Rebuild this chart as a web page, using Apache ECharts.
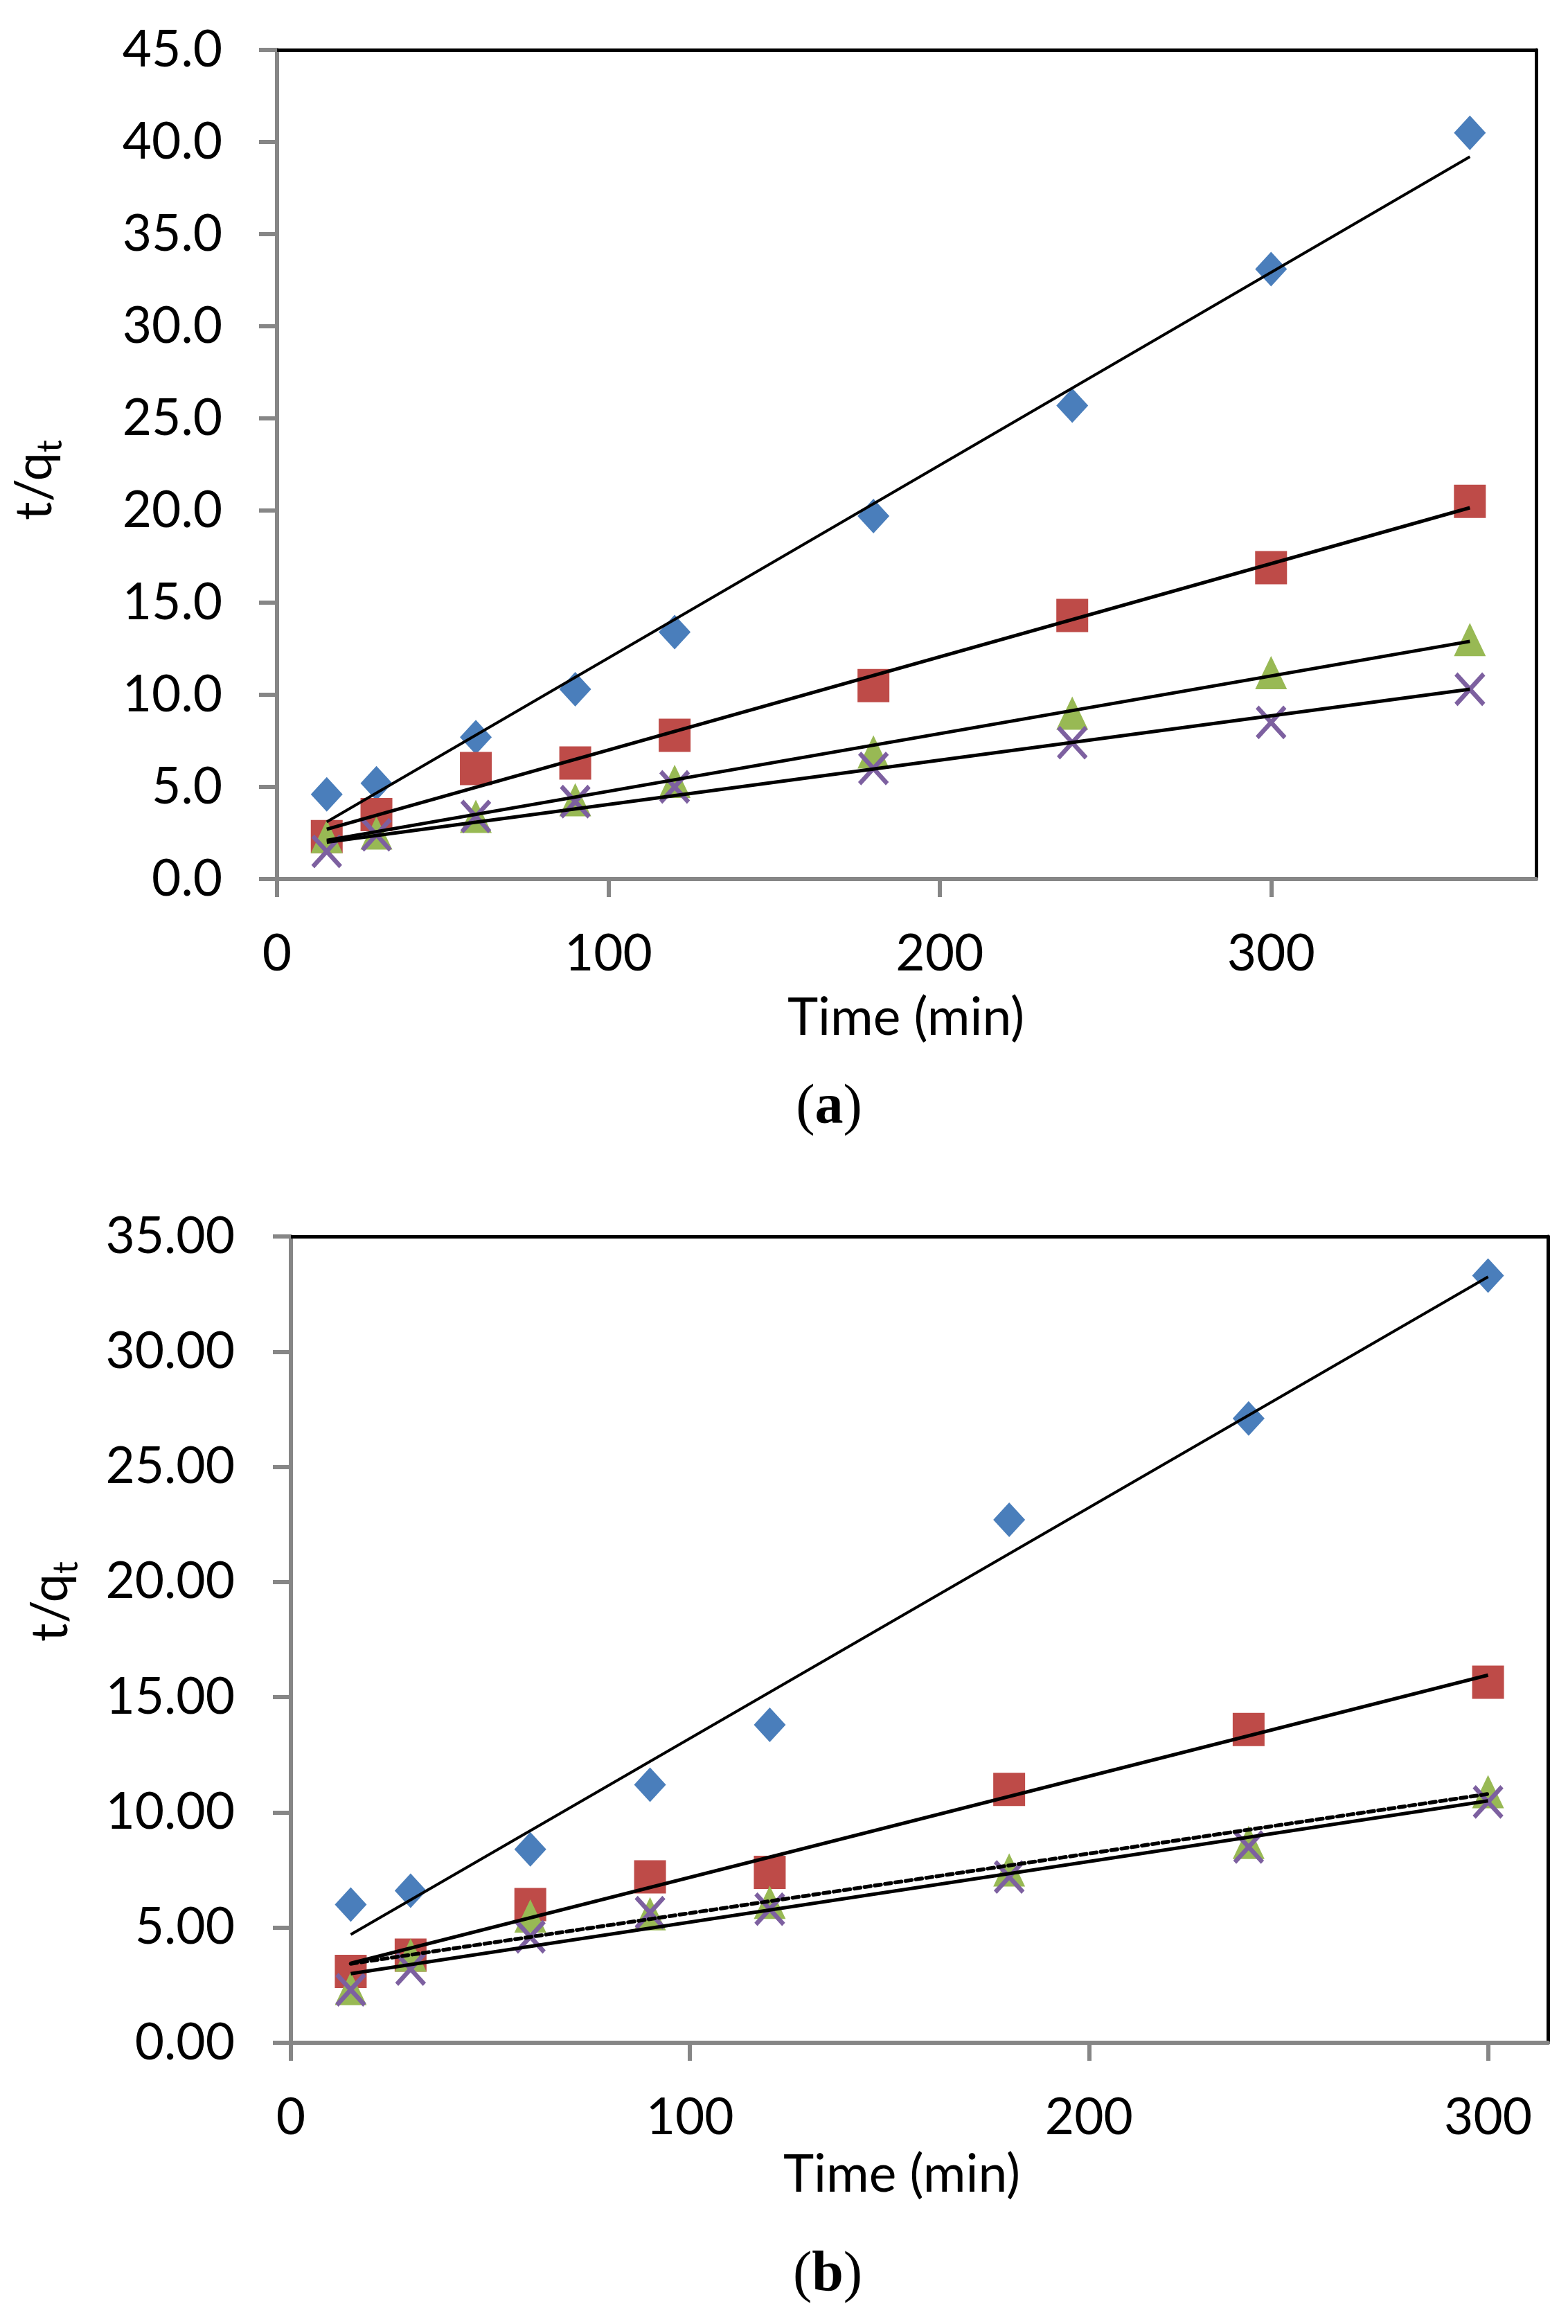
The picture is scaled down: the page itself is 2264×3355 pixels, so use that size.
<!DOCTYPE html>
<html>
<head>
<meta charset="utf-8">
<script src="https://cdn.jsdelivr.net/npm/echarts@6/dist/echarts.min.js"></script>
<style>
html,body{margin:0;padding:0;background:#fff;}
#c{width:2264px;height:3355px;}
</style>
</head>
<body>
<div id="c"></div>
<script>
// ---- Data: panel (a) ----
var timeA = [15, 30, 60, 90, 120, 180, 240, 300, 360];
var blueA = [4.6, 5.2, 7.7, 10.3, 13.4, 19.7, 25.7, 33.1, 40.5];
var redA = [2.3, 3.5, 6.0, 6.3, 7.8, 10.5, 14.3, 16.9, 20.5];
var greenA = [2.3, 2.5, 3.4, 4.3, 5.3, 6.9, 9.0, 11.2, 13.0];
var purpleA = [1.5, 2.4, 3.4, 4.2, 5.0, 6.0, 7.4, 8.5, 10.3];
// trend line end points
var fitTimeA = [15, 360];
var fitBlueA = [3.1, 39.2];
var fitRedA = [2.7, 20.15];
var fitGreenA = [2.1, 12.9];
var fitPurpleA = [2.0, 10.3];

// ---- Data: panel (b) ----
var timeB = [15, 30, 60, 90, 120, 180, 240, 300];
var blueB = [6.0, 6.6, 8.4, 11.2, 13.8, 22.7, 27.1, 33.3];
var redB = [3.1, 3.8, 6.0, 7.2, 7.4, 11.0, 13.6, 15.65];
var greenB = [2.35, 3.8, 5.5, 5.6, 6.1, 7.5, 8.7, 10.9];
var purpleB = [2.3, 3.2, 4.6, 5.65, 5.8, 7.2, 8.5, 10.45];
var fitTimeB = [15, 300];
var fitBlueB = [4.7, 33.25];
var fitRedB = [3.45, 15.96];
var fitGreenB = [3.43, 10.8];
var fitPurpleB = [3.0, 10.5];

// ticks
var xTicksA = [0, 100, 200, 300];
var xTicksB = [0, 100, 200, 300];

var SANS = 'Lato';
var SERIF = 'Liberation Serif';
var GRAY = '#868686';
var COLORS = {blue: '#4A7EBB', red: '#BE4B48', green: '#98B954', purple: '#7D60A0'};

function pairs(xs, ys) { return xs.map(function (x, i) { return [x, ys[i]]; }); }

function scatter(gi, xs, ys, kind) {
  var s = {
    type: 'scatter', xAxisIndex: gi * 2, yAxisIndex: gi * 2, z: 2,
    data: pairs(xs, ys), silent: true, animation: false
  };
  if (kind === 'blue') { s.symbol = 'diamond'; s.symbolSize = [46, 50]; s.itemStyle = {color: COLORS.blue, opacity: 1}; }
  if (kind === 'red') { s.symbol = 'rect'; s.symbolSize = [46, 48]; s.itemStyle = {color: COLORS.red, opacity: 1}; }
  if (kind === 'green') { s.symbol = 'triangle'; s.symbolSize = [46, 48]; s.itemStyle = {color: COLORS.green, opacity: 1}; }
  if (kind === 'purple') {
    s.symbol = 'path://M0,0L10,10M10,0L0,10'; s.symbolSize = [40, 44];
    s.itemStyle = {color: 'rgba(0,0,0,0)', borderColor: COLORS.purple, borderWidth: 6.5, opacity: 1};
  }
  return s;
}
function fit(gi, xs, ys, dashed, w) {
  return {
    type: 'line', xAxisIndex: gi * 2, yAxisIndex: gi * 2, z: 5,
    data: pairs(xs, ys), symbol: 'none', silent: true, animation: false,
    lineStyle: {color: '#000', width: w || 4, type: dashed ? [9, 6] : 'solid', cap: dashed ? 'round' : 'butt'}
  };
}

function mainX(gi, max, ticks) {
  return {
    type: 'value', gridIndex: gi, min: 0, max: max, interval: 100,
    axisLine: {show: true, onZero: false, lineStyle: {color: GRAY, width: 6}},
    axisTick: {show: true, inside: false, length: 26, lineStyle: {color: GRAY, width: 6}, customValues: ticks},
    axisLabel: {show: true, margin: 72, color: '#000', fontFamily: SANS, fontSize: 73, customValues: ticks},
    splitLine: {show: false}
  };
}
function borderX(gi, max) {
  return {
    type: 'value', gridIndex: gi, min: 0, max: max, position: 'top',
    axisLine: {show: true, onZero: false, lineStyle: {color: '#000', width: 5}},
    axisTick: {show: false}, axisLabel: {show: false}, splitLine: {show: false}
  };
}
function mainY(gi, max, interval, dec, margin) {
  return {
    type: 'value', gridIndex: gi, min: 0, max: max, interval: interval,
    axisLine: {show: true, onZero: false, lineStyle: {color: GRAY, width: 6}},
    axisTick: {show: true, inside: false, length: 26, lineStyle: {color: GRAY, width: 6}},
    axisLabel: {show: true, margin: margin, color: '#000', fontFamily: SANS, fontSize: 73,
      formatter: function (v) { return v.toFixed(dec); }},
    splitLine: {show: false}
  };
}
function borderY(gi, max) {
  return {
    type: 'value', gridIndex: gi, min: 0, max: max, position: 'right',
    axisLine: {show: true, onZero: false, lineStyle: {color: '#000', width: 5}},
    axisTick: {show: false}, axisLabel: {show: false}, splitLine: {show: false}
  };
}

function yTitle(cx, cy) {
  return {
    type: 'text', x: cx, y: cy, rotation: Math.PI / 2, silent: true,
    style: {
      text: '{m|t/q}{s|t}', x: 0, y: 0, align: 'center', verticalAlign: 'middle',
      rich: {
        m: {fontFamily: SANS, fontSize: 74, lineHeight: 96, fill: '#000', verticalAlign: 'middle'},
        s: {fontFamily: SANS, fontSize: 50, lineHeight: 44, fill: '#000', verticalAlign: 'bottom'}
      }
    }
  };
}
function xTitle(cx, cy) {
  return {
    type: 'text', x: cx, y: cy, silent: true,
    style: {text: 'Time (min)', x: 0, y: 0, align: 'center', verticalAlign: 'middle',
      fontFamily: SANS, fontSize: 75, fill: '#000'}
  };
}
function panelLabel(cx, cy, letter) {
  return {
    type: 'text', x: cx, y: cy, silent: true,
    style: {
      text: '{p|(}{b|' + letter + '}{p|)}', x: 0, y: 0, align: 'center', verticalAlign: 'middle',
      rich: {
        p: {fontFamily: SERIF, fontSize: 82, fontWeight: 'normal', fill: '#000'},
        b: {fontFamily: SERIF, fontSize: 82, fontWeight: 'bold', fill: '#000'}
      }
    }
  };
}

var chart = echarts.init(document.getElementById('c'), null, {renderer: 'canvas'});
chart.setOption({
  backgroundColor: '#fff',
  animation: false,
  grid: [
    {left: 400, top: 72, width: 1818, height: 1197, containLabel: false},
    {left: 420, top: 1785, width: 1815, height: 1164, containLabel: false}
  ],
  xAxis: [mainX(0, 380, xTicksA), borderX(0, 380), mainX(1, 315, xTicksB), borderX(1, 315)],
  yAxis: [mainY(0, 45, 5, 1, 79), borderY(0, 45), mainY(1, 35, 5, 2, 81), borderY(1, 35)],
  series: [
    scatter(0, timeA, blueA, 'blue'),
    scatter(0, timeA, redA, 'red'),
    scatter(0, timeA, greenA, 'green'),
    scatter(0, timeA, purpleA, 'purple'),
    fit(0, fitTimeA, fitBlueA, false, 4),
    fit(0, fitTimeA, fitRedA, false, 5),
    fit(0, fitTimeA, fitGreenA, false, 5),
    fit(0, fitTimeA, fitPurpleA, false, 5),
    scatter(1, timeB, blueB, 'blue'),
    scatter(1, timeB, redB, 'red'),
    scatter(1, timeB, greenB, 'green'),
    scatter(1, timeB, purpleB, 'purple'),
    fit(1, fitTimeB, fitBlueB, false, 4),
    fit(1, fitTimeB, fitRedB, false, 5),
    fit(1, fitTimeB, fitGreenB, true, 5.5),
    fit(1, fitTimeB, fitPurpleB, false, 5)
  ],
  graphic: [
    yTitle(50, 693),
    xTitle(1308, 1470),
    panelLabel(1197, 1600, 'a'),
    yTitle(73, 2312),
    xTitle(1302, 3140),
    panelLabel(1195, 3285, 'b')
  ]
});
</script>
</body>
</html>
